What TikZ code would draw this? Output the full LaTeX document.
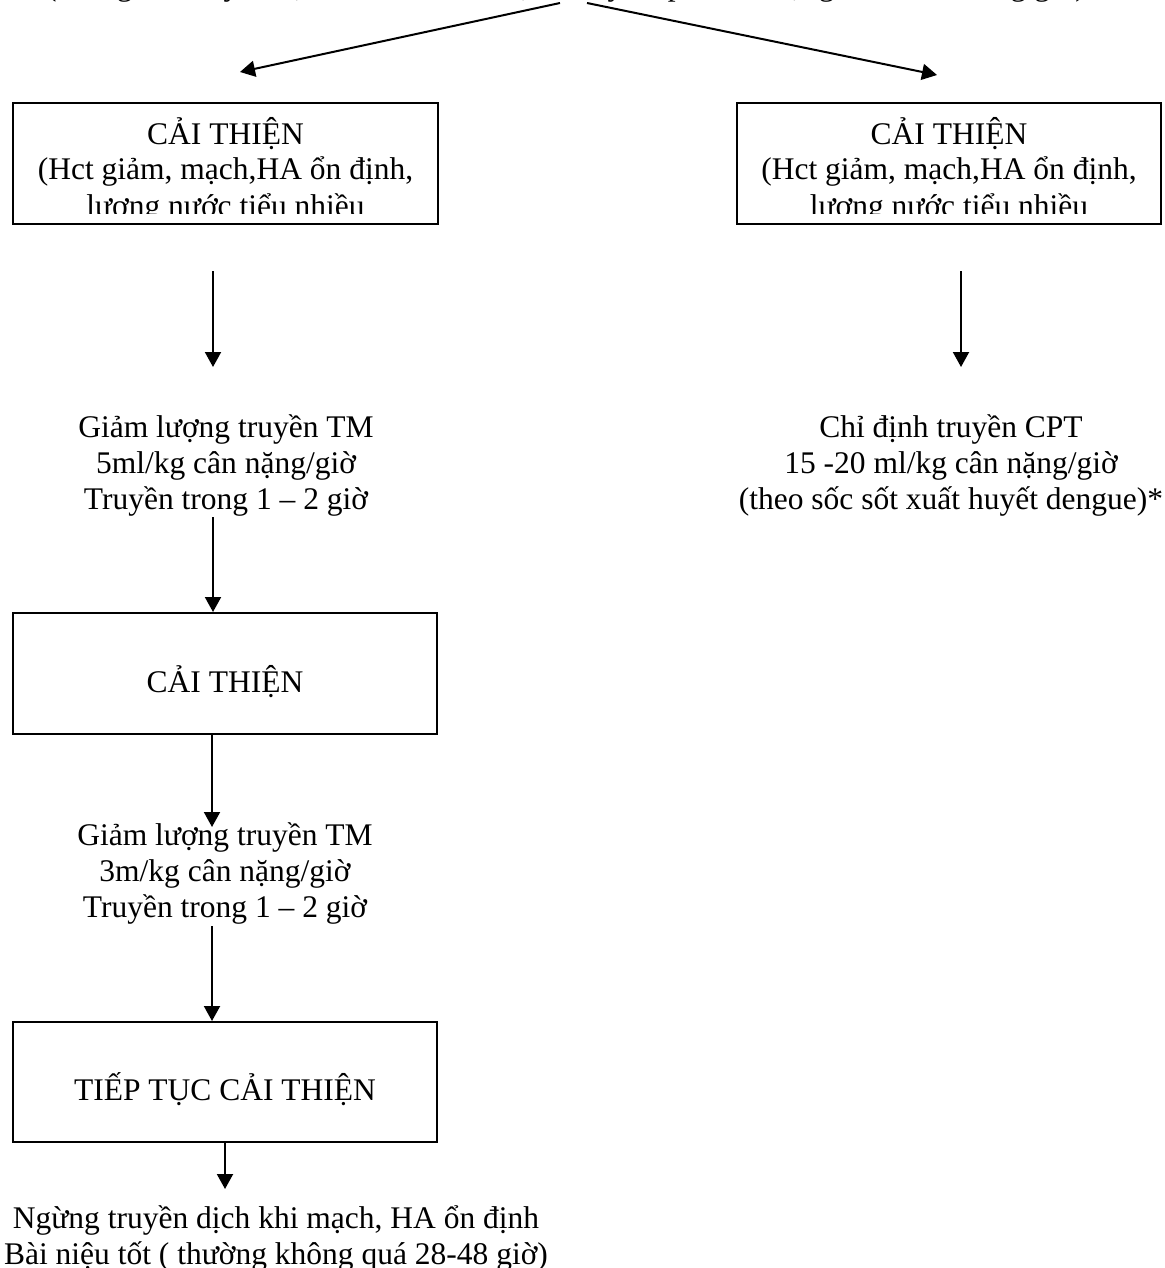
\documentclass[tikz,border=0pt]{standalone}
\usepackage{fontspec}
\setmainfont{Liberation Serif}
\usetikzlibrary{arrows.meta}

\tikzset{
  box/.style={draw, line width=2pt, inner sep=0pt},
  txt/.style={align=center, inner sep=0pt, anchor=base,
    font=\fontsize{31.5}{36}\selectfont},
  arr/.style={line width=2pt, -{Triangle[width=16pt,length=15pt]}},
}

\begin{document}
\begin{tikzpicture}[x=1pt,y=-1pt]
  %\draw[help lines,step=100] (0,0) grid (1164,1268);
  \useasboundingbox (0,0) rectangle (1164,1268);
  \clip (0,0) rectangle (1164,1268);

  % line above, cut off by the page edge
  \node[txt] (head) at (566,-4) {(Trong khi truyền dịch theo dõi sát mạch, huyết áp, Hct, lượng nước tiểu từng giờ)};
  \coordinate (hl) at (560,3);
  \coordinate (hr) at (587,3);
  \coordinate (tl) at (240,72);
  \coordinate (tr) at (937,75);
  \draw[arr] (hl) -- (tl);
  \draw[arr] (hr) -- (tr);

  % two boxes at the top (text cut at the bottom)
  \node[box, minimum width=425, minimum height=121] (imp1) at (225.5,163.5) {};
  \node[box, minimum width=424, minimum height=121] (imp1r) at (949,163.5) {};
  \begin{scope}
    \clip (13,103) rectangle (438,213);
    \node[txt] (imp1txt) at (225.5,216) {CẢI THIỆN\\(Hct giảm, mạch,HA ổn định,\\lương nước tiểu nhiều};
  \end{scope}
  \begin{scope}
    \clip (737,103) rectangle (1161,213);
    \node[txt] (imp1rtxt) at (949,216) {CẢI THIỆN\\(Hct giảm, mạch,HA ổn định,\\lương nước tiểu nhiều};
  \end{scope}

  \coordinate (a1s) at (213,271);
  \coordinate (a1e) at (213,367);
  \coordinate (a1rs) at (961,271);
  \coordinate (a1re) at (961,367);
  \draw[arr] (a1s) -- (a1e);
  \draw[arr] (a1rs) -- (a1re);

  \node[txt] (dose1) at (226,509) {Giảm lượng truyền TM\\5ml/kg cân nặng/giờ\\Truyền trong 1 – 2 giờ};
  \node[txt] (cpt) at (951,509) {Chỉ định truyền CPT\\15 -20 ml/kg cân nặng/giờ\\(theo sốc sốt xuất huyết dengue)*};

  \node[box, minimum width=424, minimum height=121] (imp2) at (225,673.5) {};
  \node[txt] (imp2txt) at (225,692) {CẢI THIỆN};
  \coordinate (a2s) at (213,517);
  \draw[arr] (a2s) -- (a2s |- imp2.north);

  \coordinate (a3e) at (212,827);
  \draw[arr] (a3e |- imp2.south) -- (a3e);
  \node[txt] (dose2) at (225,917) {Giảm lượng truyền TM\\3m/kg cân nặng/giờ\\Truyền trong 1 – 2 giờ};

  \node[box, minimum width=424, minimum height=120] (imp3) at (225,1082) {};
  \node[txt] (imp3txt) at (225,1100) {TIẾP TỤC CẢI THIỆN};
  \coordinate (a4s) at (212,926);
  \draw[arr] (a4s) -- (a4s |- imp3.north);

  \coordinate (a5e) at (225,1189);
  \draw[arr] (a5e |- imp3.south) -- (a5e);
  \node[txt] (stop) at (276,1264) {Ngừng truyền dịch khi mạch, HA ổn định\\Bài niệu tốt ( thường không quá 28-48 giờ)};

\end{tikzpicture}
\end{document}
